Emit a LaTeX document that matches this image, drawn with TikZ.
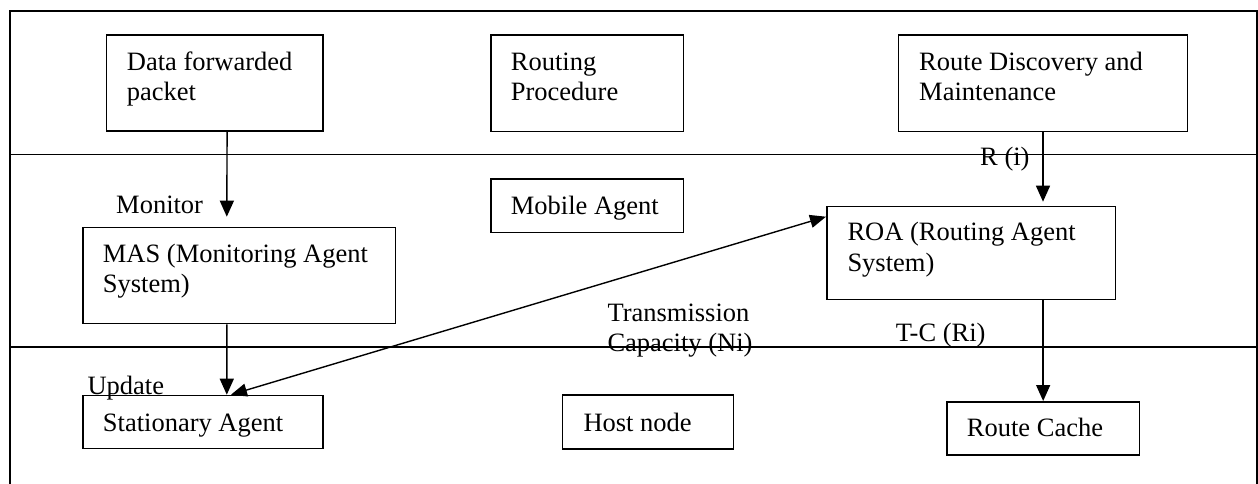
\documentclass[tikz,border=0pt]{standalone}
\usepackage{fontspec}
\setmainfont{Liberation Serif}
\usetikzlibrary{arrows.meta}
\begin{document}
\begin{tikzpicture}[x=1pt,y=-1pt,
  box/.style={draw, line width=1.6pt, rectangle, inner sep=0pt, anchor=north west},
  txt/.style={anchor=base west, inner sep=0pt, font=\fontsize{26.5}{30.5}\selectfont},
  arr/.style={line width=1.4pt, -{Triangle[length=16pt,width=14pt]}},
  darr/.style={line width=1.4pt, {Triangle[length=16pt,width=13pt]}-{Triangle[length=16pt,width=13pt]}},
  framel/.style={line width=1.6pt}]
\useasboundingbox (0,0) rectangle (1258,483);
% frame and layer lines
\draw[framel] (10,484) -- (10,11) -- (1256.7,11) -- (1256.7,484);
\draw[framel] (10,154.5) -- (1256.7,154.5);
\draw[framel] (10,346.7) -- (1256.7,346.7);
% boxes
\node[box, minimum width=216.6pt, minimum height=95.7pt] (dfp) at (105.7,34.3) {};
\node[box, minimum width=192.7pt, minimum height=96.4pt] (rp) at (490,34.3) {};
\node[box, minimum width=289pt, minimum height=96.4pt] (rdm) at (897.7,34.3) {};
\node[box, minimum width=192.7pt, minimum height=53.4pt] (ma) at (490,178.3) {};
\node[box, minimum width=312.7pt, minimum height=96pt] (mas) at (82,226.7) {};
\node[box, minimum width=288.7pt, minimum height=93pt] (roa) at (826,205.7) {};
\node[box, minimum width=240.3pt, minimum height=53pt] (sa) at (82,394.7) {};
\node[box, minimum width=171pt, minimum height=54pt] (hn) at (561.7,394.3) {};
\node[box, minimum width=192.7pt, minimum height=53.3pt] (rc) at (946,401) {};
% box texts
\node[txt] (tdfp) at (126.7,70) {\begin{tabular}[t]{@{}l@{}}Data forwarded\\packet\end{tabular}};
\node[txt] (trp) at (510.7,70) {\begin{tabular}[t]{@{}l@{}}Routing\\Procedure\end{tabular}};
\node[txt] (trdm) at (919,70) {\begin{tabular}[t]{@{}l@{}}Route Discovery and\\Maintenance\end{tabular}};
\node[txt] (tma) at (510.7,214.3) {Mobile Agent};
\node[txt] (tmas) at (102.7,262.3) {\begin{tabular}[t]{@{}l@{}}MAS (Monitoring Agent\\System)\end{tabular}};
\node[txt] (troa) at (847.3,240.7) {\begin{tabular}[t]{@{}l@{}}ROA (Routing Agent\\System)\end{tabular}};
\node[txt] (tsa) at (102.7,431) {Stationary Agent};
\node[txt] (thn) at (583.3,431) {Host node};
\node[txt] (trc) at (966.7,436.7) {Route Cache};
% connector labels
\node[txt] (lmon) at (116,213.3) {Monitor};
\node[txt] (lri) at (980,165.7) {R (i)};
\node[txt] (ltc) at (895.7,341.7) {T-C (Ri)};
\node[txt] (lupd) at (87.3,394.3) {Update};
\node[txt] (ltr) at (607.3,321) {\begin{tabular}[t]{@{}l@{}}Transmission\\Capacity (Ni)\end{tabular}};
% connectors
\draw[arr] ([xshift=12.3pt]dfp.south) -- ([xshift=-12.35pt,yshift=10pt]mas.north);
\draw[arr] ([xshift=-12.35pt]mas.south) -- ([xshift=23.85pt]sa.north);
\draw[arr] (rdm.south) -- ([yshift=4pt]rdm.south |- roa.north);
\draw[arr] (rc.north |- roa.south) -- (rc.north);
\draw[darr] ([xshift=28pt]sa.north) -- ([yshift=-11pt]roa.north west);
\end{tikzpicture}
\end{document}
